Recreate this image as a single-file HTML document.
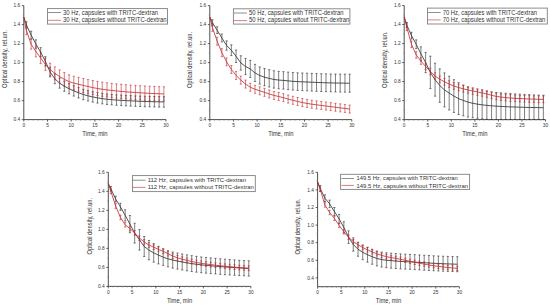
<!DOCTYPE html>
<html><head><meta charset="utf-8"><style>html,body{margin:0;padding:0;background:#fff;width:550px;height:306px;overflow:hidden}svg{display:block}</style></head>
<body><svg width="550" height="306" viewBox="0 0 550 306" font-family='"Liberation Sans", sans-serif' fill="#333"><g><path d="M23.80 5.60V119.60H166.00" fill="none" stroke="#3a3a3a" stroke-width="0.9"/><text x="20.20" y="121.30" font-size="4.8" text-anchor="end">0.4</text><text x="20.20" y="102.30" font-size="4.8" text-anchor="end">0.6</text><text x="20.20" y="83.30" font-size="4.8" text-anchor="end">0.8</text><text x="20.20" y="64.30" font-size="4.8" text-anchor="end">1.0</text><text x="20.20" y="45.30" font-size="4.8" text-anchor="end">1.2</text><text x="20.20" y="26.30" font-size="4.8" text-anchor="end">1.4</text><text x="20.20" y="7.30" font-size="4.8" text-anchor="end">1.6</text><text x="23.80" y="126.80" font-size="4.8" text-anchor="middle">0</text><text x="47.50" y="126.80" font-size="4.8" text-anchor="middle">5</text><text x="71.20" y="126.80" font-size="4.8" text-anchor="middle">10</text><text x="94.90" y="126.80" font-size="4.8" text-anchor="middle">15</text><text x="118.60" y="126.80" font-size="4.8" text-anchor="middle">20</text><text x="142.30" y="126.80" font-size="4.8" text-anchor="middle">25</text><text x="166.00" y="126.80" font-size="4.8" text-anchor="middle">30</text><path d="M21.80 119.60H23.80M21.80 100.60H23.80M21.80 81.60H23.80M21.80 62.60H23.80M21.80 43.60H23.80M21.80 24.60H23.80M21.80 5.60H23.80M23.80 119.60V121.60M47.50 119.60V121.60M71.20 119.60V121.60M94.90 119.60V121.60M118.60 119.60V121.60M142.30 119.60V121.60M166.00 119.60V121.60" stroke="#3a3a3a" stroke-width="0.8"/><path d="M22.60 110.10H23.80M22.60 91.10H23.80M22.60 72.10H23.80M22.60 53.10H23.80M22.60 34.10H23.80M22.60 15.10H23.80M28.54 119.60V120.80M33.28 119.60V120.80M38.02 119.60V120.80M42.76 119.60V120.80M52.24 119.60V120.80M56.98 119.60V120.80M61.72 119.60V120.80M66.46 119.60V120.80M75.94 119.60V120.80M80.68 119.60V120.80M85.42 119.60V120.80M90.16 119.60V120.80M99.64 119.60V120.80M104.38 119.60V120.80M109.12 119.60V120.80M113.86 119.60V120.80M123.34 119.60V120.80M128.08 119.60V120.80M132.82 119.60V120.80M137.56 119.60V120.80M147.04 119.60V120.80M151.78 119.60V120.80M156.52 119.60V120.80M161.26 119.60V120.80" stroke="#888" stroke-width="0.6"/><text x="94.90" y="135.70" font-size="6.4" text-anchor="middle" textLength="25.3" lengthAdjust="spacingAndGlyphs">Time, min</text><text transform="translate(6.90 59.10) rotate(-90)" x="0" y="0" font-size="6.5" text-anchor="middle" textLength="57.8" lengthAdjust="spacingAndGlyphs">Optical density, rel.un.</text><path d="M26.41 21.74V28.24M25.31 21.74H27.51M25.31 28.24H27.51M31.15 31.25V38.87M30.05 31.25H32.25M30.05 38.87H32.25M35.89 39.82V48.24M34.79 39.82H36.99M34.79 48.24H36.99M40.63 47.65V56.65M39.53 47.65H41.73M39.53 56.65H41.73M45.37 56.65V66.06M44.27 56.65H46.47M44.27 66.06H46.47M50.11 67.19V76.89M49.01 67.19H51.21M49.01 76.89H51.21M54.85 73.79V83.71M53.75 73.79H55.95M53.75 83.71H55.95M59.59 78.10V88.16M58.49 78.10H60.69M58.49 88.16H60.69M64.33 81.13V91.30M63.23 81.13H65.43M63.23 91.30H65.43M69.07 83.59V93.84M67.97 83.59H70.17M67.97 93.84H70.17M73.81 85.74V96.05M72.71 85.74H74.91M72.71 96.05H74.91M78.55 87.65V98.00M77.45 87.65H79.65M77.45 98.00H79.65M83.29 89.30V99.68M82.19 89.30H84.39M82.19 99.68H84.39M88.03 90.64V101.04M86.93 90.64H89.13M86.93 101.04H89.13M92.77 91.74V102.15M91.67 91.74H93.87M91.67 102.15H93.87M97.51 92.62V103.05M96.41 92.62H98.61M96.41 103.05H98.61M102.25 93.40V103.83M101.15 93.40H103.35M101.15 103.83H103.35M106.99 94.02V104.46M105.89 94.02H108.09M105.89 104.46H108.09M111.73 94.47V104.91M110.63 94.47H112.83M110.63 104.91H112.83M116.47 94.84V105.28M115.37 94.84H117.57M115.37 105.28H117.57M121.21 95.14V105.59M120.11 95.14H122.31M120.11 105.59H122.31M125.95 95.41V105.85M124.85 95.41H127.05M124.85 105.85H127.05M130.69 95.65V106.10M129.59 95.65H131.79M129.59 106.10H131.79M135.43 95.88V106.33M134.33 95.88H136.53M134.33 106.33H136.53M140.17 96.09V106.54M139.07 96.09H141.27M139.07 106.54H141.27M144.91 96.26V106.71M143.81 96.26H146.01M143.81 106.71H146.01M149.65 96.40V106.85M148.55 96.40H150.75M148.55 106.85H150.75M154.39 96.52V106.97M153.29 96.52H155.49M153.29 106.97H155.49M159.13 96.62V107.07M158.03 96.62H160.23M158.03 107.07H160.23M163.87 96.70V107.15M162.77 96.70H164.97M162.77 107.15H164.97" fill="none" stroke="#2a2a2a" stroke-width="0.6"/><polyline points="23.80,17.00 26.41,24.99 31.15,35.06 35.89,44.03 40.63,52.15 45.37,61.35 50.11,72.04 54.85,78.75 59.59,83.13 64.33,86.22 69.07,88.72 73.81,90.89 78.55,92.83 83.29,94.49 88.03,95.84 92.77,96.95 97.51,97.83 102.25,98.61 106.99,99.24 111.73,99.69 116.47,100.06 121.21,100.36 125.95,100.63 130.69,100.87 135.43,101.10 140.17,101.31 144.91,101.48 149.65,101.62 154.39,101.74 159.13,101.85 163.87,101.92" fill="none" stroke="#2a2a2a" stroke-width="0.8"/><path d="M26.41 26.25V34.71M25.31 26.25H27.51M25.31 34.71H27.51M31.15 39.40V49.14M30.05 39.40H32.25M30.05 49.14H32.25M35.89 46.17V56.91M34.79 46.17H36.99M34.79 56.91H36.99M40.63 52.09V63.61M39.53 52.09H41.73M39.53 63.61H41.73M45.37 58.27V70.39M44.27 58.27H46.47M44.27 70.39H46.47M50.11 63.21V75.80M49.01 63.21H51.21M49.01 75.80H51.21M54.85 66.87V79.83M53.75 66.87H55.95M53.75 79.83H55.95M59.59 69.90V83.14M58.49 69.90H60.69M58.49 83.14H60.69M64.33 72.57V86.04M63.23 72.57H65.43M63.23 86.04H65.43M69.07 74.80V88.44M67.97 74.80H70.17M67.97 88.44H70.17M73.81 76.22V89.99M72.71 76.22H74.91M72.71 89.99H74.91M78.55 77.33V91.21M77.45 77.33H79.65M77.45 91.21H79.65M83.29 78.47V92.43M82.19 78.47H84.39M82.19 92.43H84.39M88.03 79.55V93.58M86.93 79.55H89.13M86.93 93.58H89.13M92.77 80.55V94.63M91.67 80.55H93.87M91.67 94.63H93.87M97.51 81.45V95.57M96.41 81.45H98.61M96.41 95.57H98.61M102.25 82.18V96.33M101.15 82.18H103.35M101.15 96.33H103.35M106.99 82.81V96.98M105.89 82.81H108.09M105.89 96.98H108.09M111.73 83.35V97.54M110.63 83.35H112.83M110.63 97.54H112.83M116.47 83.84V98.04M115.37 83.84H117.57M115.37 98.04H117.57M121.21 84.29V98.50M120.11 84.29H122.31M120.11 98.50H122.31M125.95 84.70V98.92M124.85 84.70H127.05M124.85 98.92H127.05M130.69 85.06V99.29M129.59 85.06H131.79M129.59 99.29H131.79M135.43 85.39V99.62M134.33 85.39H136.53M134.33 99.62H136.53M140.17 85.69V99.92M139.07 85.69H141.27M139.07 99.92H141.27M144.91 85.96V100.20M143.81 85.96H146.01M143.81 100.20H146.01M149.65 86.20V100.44M148.55 86.20H150.75M148.55 100.44H150.75M154.39 86.42V100.67M153.29 86.42H155.49M153.29 100.67H155.49M159.13 86.63V100.87M158.03 86.63H160.23M158.03 100.87H160.23M163.87 86.80V101.05M162.77 86.80H164.97M162.77 101.05H164.97" fill="none" stroke="#c0282d" stroke-width="0.6"/><polyline points="23.80,17.00 26.41,30.48 31.15,44.27 35.89,51.54 40.63,57.85 45.37,64.33 50.11,69.50 54.85,73.35 59.59,76.52 64.33,79.30 69.07,81.62 73.81,83.11 78.55,84.27 83.29,85.45 88.03,86.56 92.77,87.59 97.51,88.51 102.25,89.26 106.99,89.89 111.73,90.44 116.47,90.94 121.21,91.40 125.95,91.81 130.69,92.17 135.43,92.51 140.17,92.81 144.91,93.08 149.65,93.32 154.39,93.55 159.13,93.75 163.87,93.93" fill="none" stroke="#c0282d" stroke-width="0.8"/><rect x="47.50" y="8.60" width="120.00" height="15.50" fill="#fff" stroke="#808080" stroke-width="0.9"/><path d="M48.00 12.50H61.00" stroke="#444" stroke-width="0.6"/><path d="M48.00 20.30H61.00" stroke="#c0282d" stroke-width="0.6"/><text x="63.00" y="14.80" font-size="6.6" textLength="95.00" lengthAdjust="spacingAndGlyphs">30 Hz, capsules with TRITC-dextran</text><text x="63.00" y="22.00" font-size="6.6" textLength="103.50" lengthAdjust="spacingAndGlyphs">30 Hz, capsules without TRITC-dextran</text></g><g><path d="M209.80 5.60V119.60H351.80" fill="none" stroke="#3a3a3a" stroke-width="0.9"/><text x="206.20" y="121.30" font-size="4.8" text-anchor="end">0.4</text><text x="206.20" y="102.30" font-size="4.8" text-anchor="end">0.6</text><text x="206.20" y="83.30" font-size="4.8" text-anchor="end">0.8</text><text x="206.20" y="64.30" font-size="4.8" text-anchor="end">1.0</text><text x="206.20" y="45.30" font-size="4.8" text-anchor="end">1.2</text><text x="206.20" y="26.30" font-size="4.8" text-anchor="end">1.4</text><text x="206.20" y="7.30" font-size="4.8" text-anchor="end">1.6</text><text x="209.80" y="126.80" font-size="4.8" text-anchor="middle">0</text><text x="233.47" y="126.80" font-size="4.8" text-anchor="middle">5</text><text x="257.13" y="126.80" font-size="4.8" text-anchor="middle">10</text><text x="280.80" y="126.80" font-size="4.8" text-anchor="middle">15</text><text x="304.47" y="126.80" font-size="4.8" text-anchor="middle">20</text><text x="328.13" y="126.80" font-size="4.8" text-anchor="middle">25</text><text x="351.80" y="126.80" font-size="4.8" text-anchor="middle">30</text><path d="M207.80 119.60H209.80M207.80 100.60H209.80M207.80 81.60H209.80M207.80 62.60H209.80M207.80 43.60H209.80M207.80 24.60H209.80M207.80 5.60H209.80M209.80 119.60V121.60M233.47 119.60V121.60M257.13 119.60V121.60M280.80 119.60V121.60M304.47 119.60V121.60M328.13 119.60V121.60M351.80 119.60V121.60" stroke="#3a3a3a" stroke-width="0.8"/><path d="M208.60 110.10H209.80M208.60 91.10H209.80M208.60 72.10H209.80M208.60 53.10H209.80M208.60 34.10H209.80M208.60 15.10H209.80M214.53 119.60V120.80M219.27 119.60V120.80M224.00 119.60V120.80M228.73 119.60V120.80M238.20 119.60V120.80M242.93 119.60V120.80M247.67 119.60V120.80M252.40 119.60V120.80M261.87 119.60V120.80M266.60 119.60V120.80M271.33 119.60V120.80M276.07 119.60V120.80M285.53 119.60V120.80M290.27 119.60V120.80M295.00 119.60V120.80M299.73 119.60V120.80M309.20 119.60V120.80M313.93 119.60V120.80M318.67 119.60V120.80M323.40 119.60V120.80M332.87 119.60V120.80M337.60 119.60V120.80M342.33 119.60V120.80M347.07 119.60V120.80" stroke="#888" stroke-width="0.6"/><text x="280.80" y="135.70" font-size="6.4" text-anchor="middle" textLength="25.3" lengthAdjust="spacingAndGlyphs">Time, min</text><text transform="translate(192.40 60.00) rotate(-90)" x="0" y="0" font-size="6.5" text-anchor="middle" textLength="56.2" lengthAdjust="spacingAndGlyphs">Optical density, rel.un.</text><path d="M212.40 19.69V25.74M211.30 19.69H213.50M211.30 25.74H213.50M217.14 26.81V33.53M216.04 26.81H218.24M216.04 33.53H218.24M221.87 33.95V41.93M220.77 33.95H222.97M220.77 41.93H222.97M226.60 40.86V50.20M225.50 40.86H227.70M225.50 50.20H227.70M231.34 44.81V55.57M230.24 44.81H232.44M230.24 55.57H232.44M236.07 50.07V62.52M234.97 50.07H237.17M234.97 62.52H237.17M240.80 55.76V70.10M239.70 55.76H241.90M239.70 70.10H241.90M245.54 58.41V74.65M244.44 58.41H246.64M244.44 74.65H246.64M250.27 60.34V77.46M249.17 60.34H251.37M249.17 77.46H251.37M255.00 64.37V81.54M253.90 64.37H256.10M253.90 81.54H256.10M259.74 66.91V84.12M258.64 66.91H260.84M258.64 84.12H260.84M264.47 68.55V85.80M263.37 68.55H265.57M263.37 85.80H265.57M269.20 69.73V87.03M268.10 69.73H270.30M268.10 87.03H270.30M273.94 70.78V88.12M272.84 70.78H275.04M272.84 88.12H275.04M278.67 71.38V88.76M277.57 71.38H279.77M277.57 88.76H279.77M283.40 71.65V89.08M282.30 71.65H284.50M282.30 89.08H284.50M288.14 72.14V89.60M287.04 72.14H289.24M287.04 89.60H289.24M292.87 72.57V90.09M291.77 72.57H293.97M291.77 90.09H293.97M297.60 72.83V90.39M296.50 72.83H298.70M296.50 90.39H298.70M302.34 73.03V90.63M301.24 73.03H303.44M301.24 90.63H303.44M307.07 73.20V90.85M305.97 73.20H308.17M305.97 90.85H308.17M311.80 73.39V91.07M310.70 73.39H312.90M310.70 91.07H312.90M316.54 73.57V91.30M315.44 73.57H317.64M315.44 91.30H317.64M321.27 73.74V91.51M320.17 73.74H322.37M320.17 91.51H322.37M326.00 73.87V91.69M324.90 73.87H327.10M324.90 91.69H327.10M330.74 73.97V91.82M329.64 73.97H331.84M329.64 91.82H331.84M335.47 74.05V91.95M334.37 74.05H336.57M334.37 91.95H336.57M340.20 74.12V92.06M339.10 74.12H341.30M339.10 92.06H341.30M344.94 74.17V92.16M343.84 74.17H346.04M343.84 92.16H346.04M349.67 74.20V92.23M348.57 74.20H350.77M348.57 92.23H350.77" fill="none" stroke="#2a2a2a" stroke-width="0.6"/><polyline points="209.80,17.00 212.40,22.72 217.14,30.17 221.87,37.94 226.60,45.53 231.34,50.19 236.07,56.29 240.80,62.93 245.54,66.53 250.27,68.90 255.00,72.96 259.74,75.51 264.47,77.17 269.20,78.38 273.94,79.45 278.67,80.07 283.40,80.37 288.14,80.87 292.87,81.33 297.60,81.61 302.34,81.83 307.07,82.02 311.80,82.23 316.54,82.43 321.27,82.62 326.00,82.78 330.74,82.90 335.47,83.00 340.20,83.09 344.94,83.16 349.67,83.21" fill="none" stroke="#2a2a2a" stroke-width="0.8"/><path d="M212.40 23.36V31.34M211.30 23.36H213.50M211.30 31.34H213.50M217.14 37.17V45.15M216.04 37.17H218.24M216.04 45.15H218.24M221.87 48.68V56.66M220.77 48.68H222.97M220.77 56.66H222.97M226.60 57.87V65.85M225.50 57.87H227.70M225.50 65.85H227.70M231.34 65.46V73.44M230.24 65.46H232.44M230.24 73.44H232.44M236.07 71.43V79.41M234.97 71.43H237.17M234.97 79.41H237.17M240.80 76.11V84.09M239.70 76.11H241.90M239.70 84.09H241.90M245.54 80.08V88.06M244.44 80.08H246.64M244.44 88.06H246.64M250.27 83.22V91.20M249.17 83.22H251.37M249.17 91.20H251.37M255.00 85.29V93.27M253.90 85.29H256.10M253.90 93.27H256.10M259.74 86.78V94.76M258.64 86.78H260.84M258.64 94.76H260.84M264.47 88.36V96.34M263.37 88.36H265.57M263.37 96.34H265.57M269.20 89.98V97.96M268.10 89.98H270.30M268.10 97.96H270.30M273.94 91.44V99.42M272.84 91.44H275.04M272.84 99.42H275.04M278.67 92.50V100.48M277.57 92.50H279.77M277.57 100.48H279.77M283.40 93.71V101.69M282.30 93.71H284.50M282.30 101.69H284.50M288.14 95.09V103.07M287.04 95.09H289.24M287.04 103.07H289.24M292.87 96.31V104.29M291.77 96.31H293.97M291.77 104.29H293.97M297.60 97.46V105.44M296.50 97.46H298.70M296.50 105.44H298.70M302.34 98.52V106.50M301.24 98.52H303.44M301.24 106.50H303.44M307.07 99.45V107.43M305.97 99.45H308.17M305.97 107.43H308.17M311.80 100.21V108.19M310.70 100.21H312.90M310.70 108.19H312.90M316.54 100.86V108.84M315.44 100.86H317.64M315.44 108.84H317.64M321.27 101.45V109.43M320.17 101.45H322.37M320.17 109.43H322.37M326.00 102.04V110.02M324.90 102.04H327.10M324.90 110.02H327.10M330.74 102.65V110.63M329.64 102.65H331.84M329.64 110.63H331.84M335.47 103.26V111.24M334.37 103.26H336.57M334.37 111.24H336.57M340.20 103.87V111.85M339.10 103.87H341.30M339.10 111.85H341.30M344.94 104.47V112.45M343.84 104.47H346.04M343.84 112.45H346.04M349.67 105.07V113.05M348.57 105.07H350.77M348.57 113.05H350.77" fill="none" stroke="#c0282d" stroke-width="0.6"/><polyline points="209.80,17.00 212.40,27.35 217.14,41.16 221.87,52.67 226.60,61.86 231.34,69.45 236.07,75.42 240.80,80.10 245.54,84.07 250.27,87.21 255.00,89.28 259.74,90.77 264.47,92.35 269.20,93.97 273.94,95.43 278.67,96.49 283.40,97.70 288.14,99.08 292.87,100.30 297.60,101.45 302.34,102.51 307.07,103.44 311.80,104.20 316.54,104.85 321.27,105.44 326.00,106.03 330.74,106.64 335.47,107.25 340.20,107.86 344.94,108.46 349.67,109.06" fill="none" stroke="#c0282d" stroke-width="0.8"/><rect x="233.40" y="8.80" width="116.50" height="15.30" fill="#fff" stroke="#808080" stroke-width="0.9"/><path d="M234.00 13.00H247.00" stroke="#444" stroke-width="0.6"/><path d="M234.00 20.60H247.00" stroke="#c0282d" stroke-width="0.6"/><text x="249.00" y="15.00" font-size="6.6" textLength="94.50" lengthAdjust="spacingAndGlyphs">50 Hz, capsules with TRITC-dextran</text><text x="249.00" y="22.10" font-size="6.6" textLength="100.40" lengthAdjust="spacingAndGlyphs">50 Hz, capsules witout TRITC-dextran</text></g><g><path d="M404.20 5.50V119.60H545.50" fill="none" stroke="#3a3a3a" stroke-width="0.9"/><text x="400.60" y="121.30" font-size="4.8" text-anchor="end">0.4</text><text x="400.60" y="102.28" font-size="4.8" text-anchor="end">0.6</text><text x="400.60" y="83.27" font-size="4.8" text-anchor="end">0.8</text><text x="400.60" y="64.25" font-size="4.8" text-anchor="end">1.0</text><text x="400.60" y="45.23" font-size="4.8" text-anchor="end">1.2</text><text x="400.60" y="26.22" font-size="4.8" text-anchor="end">1.4</text><text x="400.60" y="7.20" font-size="4.8" text-anchor="end">1.6</text><text x="404.20" y="126.80" font-size="4.8" text-anchor="middle">0</text><text x="427.75" y="126.80" font-size="4.8" text-anchor="middle">5</text><text x="451.30" y="126.80" font-size="4.8" text-anchor="middle">10</text><text x="474.85" y="126.80" font-size="4.8" text-anchor="middle">15</text><text x="498.40" y="126.80" font-size="4.8" text-anchor="middle">20</text><text x="521.95" y="126.80" font-size="4.8" text-anchor="middle">25</text><text x="545.50" y="126.80" font-size="4.8" text-anchor="middle">30</text><path d="M402.20 119.60H404.20M402.20 100.58H404.20M402.20 81.57H404.20M402.20 62.55H404.20M402.20 43.53H404.20M402.20 24.52H404.20M402.20 5.50H404.20M404.20 119.60V121.60M427.75 119.60V121.60M451.30 119.60V121.60M474.85 119.60V121.60M498.40 119.60V121.60M521.95 119.60V121.60M545.50 119.60V121.60" stroke="#3a3a3a" stroke-width="0.8"/><path d="M403.00 110.09H404.20M403.00 91.08H404.20M403.00 72.06H404.20M403.00 53.04H404.20M403.00 34.03H404.20M403.00 15.01H404.20M408.91 119.60V120.80M413.62 119.60V120.80M418.33 119.60V120.80M423.04 119.60V120.80M432.46 119.60V120.80M437.17 119.60V120.80M441.88 119.60V120.80M446.59 119.60V120.80M456.01 119.60V120.80M460.72 119.60V120.80M465.43 119.60V120.80M470.14 119.60V120.80M479.56 119.60V120.80M484.27 119.60V120.80M488.98 119.60V120.80M493.69 119.60V120.80M503.11 119.60V120.80M507.82 119.60V120.80M512.53 119.60V120.80M517.24 119.60V120.80M526.66 119.60V120.80M531.37 119.60V120.80M536.08 119.60V120.80M540.79 119.60V120.80" stroke="#888" stroke-width="0.6"/><text x="474.85" y="135.70" font-size="6.4" text-anchor="middle" textLength="25.3" lengthAdjust="spacingAndGlyphs">Time, min</text><text transform="translate(386.60 59.75) rotate(-90)" x="0" y="0" font-size="6.5" text-anchor="middle" textLength="56.7" lengthAdjust="spacingAndGlyphs">Optical density, rel.un.</text><path d="M406.79 22.54V27.39M405.69 22.54H407.89M405.69 27.39H407.89M411.50 32.27V39.02M410.40 32.27H412.60M410.40 39.02H412.60M416.21 39.89V48.71M415.11 39.89H417.31M415.11 48.71H417.31M420.92 46.82V60.77M419.82 46.82H422.02M419.82 60.77H422.02M425.63 52.37V72.66M424.53 52.37H426.73M424.53 72.66H426.73M430.34 56.20V88.56M429.24 56.20H431.44M429.24 88.56H431.44M435.05 63.24V96.14M433.95 63.24H436.15M433.95 96.14H436.15M439.76 68.88V102.32M438.66 68.88H440.86M438.66 102.32H440.86M444.47 72.92V106.91M443.37 72.92H445.57M443.37 106.91H445.57M449.18 76.22V109.93M448.08 76.22H450.28M448.08 109.93H450.28M453.89 79.69V112.45M452.79 79.69H454.99M452.79 112.45H454.99M458.60 82.75V114.55M457.50 82.75H459.70M457.50 114.55H459.70M463.31 85.03V115.88M462.21 85.03H464.41M462.21 115.88H464.41M468.02 87.18V117.08M466.92 87.18H469.12M466.92 117.08H469.12M472.73 88.82V117.77M471.63 88.82H473.83M471.63 117.77H473.83M477.44 89.97V118.35M476.34 89.97H478.54M476.34 118.35H478.54M482.15 90.76V118.89M481.05 90.76H483.25M481.05 118.89H483.25M486.86 91.42V119.30M485.76 91.42H487.96M485.76 119.30H487.96M491.57 91.99V119.60M490.47 91.99H492.67M490.47 119.60H492.67M496.28 92.47V119.60M495.18 92.47H497.38M495.18 119.60H497.38M500.99 92.87V119.60M499.89 92.87H502.09M499.89 119.60H502.09M505.70 93.22V119.60M504.60 93.22H506.80M504.60 119.60H506.80M510.41 93.55V119.60M509.31 93.55H511.51M509.31 119.60H511.51M515.12 93.85V119.60M514.02 93.85H516.22M514.02 119.60H516.22M519.83 94.13V119.60M518.73 94.13H520.93M518.73 119.60H520.93M524.54 94.39V119.60M523.44 94.39H525.64M523.44 119.60H525.64M529.25 94.63V119.60M528.15 94.63H530.35M528.15 119.60H530.35M533.96 94.87V119.60M532.86 94.87H535.06M532.86 119.60H535.06M538.67 95.09V119.60M537.57 95.09H539.77M537.57 119.60H539.77M543.38 95.29V119.60M542.28 95.29H544.48M542.28 119.60H544.48" fill="none" stroke="#2a2a2a" stroke-width="0.6"/><polyline points="404.20,16.91 406.79,24.96 411.50,35.64 416.21,44.30 420.92,53.80 425.63,62.52 430.34,72.38 435.05,79.69 439.76,85.60 444.47,89.92 449.18,93.07 453.89,96.07 458.60,98.65 463.31,100.45 468.02,102.13 472.73,103.30 477.44,104.16 482.15,104.83 486.86,105.36 491.57,105.80 496.28,106.16 500.99,106.43 505.70,106.66 510.41,106.86 515.12,107.03 519.83,107.18 524.54,107.31 529.25,107.43 533.96,107.54 538.67,107.63 543.38,107.71" fill="none" stroke="#2a2a2a" stroke-width="0.8"/><path d="M406.79 23.87V30.52M405.69 23.87H407.89M405.69 30.52H407.89M411.50 41.02V47.67M410.40 41.02H412.60M410.40 47.67H412.60M416.21 51.62V58.27M415.11 51.62H417.31M415.11 58.27H417.31M420.92 57.72V64.38M419.82 57.72H422.02M419.82 64.38H422.02M425.63 63.14V69.79M424.53 63.14H426.73M424.53 69.79H426.73M430.34 68.15V74.81M429.24 68.15H431.44M429.24 74.81H431.44M435.05 72.68V79.34M433.95 72.68H436.15M433.95 79.34H436.15M439.76 75.87V82.53M438.66 75.87H440.86M438.66 82.53H440.86M444.47 78.45V85.11M443.37 78.45H445.57M443.37 85.11H445.57M449.18 80.76V87.42M448.08 80.76H450.28M448.08 87.42H450.28M453.89 82.65V89.31M452.79 82.65H454.99M452.79 89.31H454.99M458.60 84.21V90.87M457.50 84.21H459.70M457.50 90.87H459.70M463.31 85.51V92.16M462.21 85.51H464.41M462.21 92.16H464.41M468.02 86.65V93.30M466.92 86.65H469.12M466.92 93.30H469.12M472.73 87.70V94.36M471.63 87.70H473.83M471.63 94.36H473.83M477.44 88.66V95.32M476.34 88.66H478.54M476.34 95.32H478.54M482.15 89.58V96.23M481.05 89.58H483.25M481.05 96.23H483.25M486.86 90.61V97.27M485.76 90.61H487.96M485.76 97.27H487.96M491.57 91.92V98.58M490.47 91.92H492.67M490.47 98.58H492.67M496.28 93.10V99.76M495.18 93.10H497.38M495.18 99.76H497.38M500.99 93.77V100.42M499.89 93.77H502.09M499.89 100.42H502.09M505.70 94.26V100.92M504.60 94.26H506.80M504.60 100.92H506.80M510.41 94.67V101.32M509.31 94.67H511.51M509.31 101.32H511.51M515.12 95.00V101.65M514.02 95.00H516.22M514.02 101.65H516.22M519.83 95.26V101.91M518.73 95.26H520.93M518.73 101.91H520.93M524.54 95.47V102.12M523.44 95.47H525.64M523.44 102.12H525.64M529.25 95.66V102.31M528.15 95.66H530.35M528.15 102.31H530.35M533.96 95.82V102.48M532.86 95.82H535.06M532.86 102.48H535.06M538.67 95.95V102.60M537.57 95.95H539.77M537.57 102.60H539.77M543.38 96.01V102.67M542.28 96.01H544.48M542.28 102.67H544.48" fill="none" stroke="#c0282d" stroke-width="0.6"/><polyline points="404.20,16.91 406.79,27.19 411.50,44.35 416.21,54.94 420.92,61.05 425.63,66.47 430.34,71.48 435.05,76.01 439.76,79.20 444.47,81.78 449.18,84.09 453.89,85.98 458.60,87.54 463.31,88.84 468.02,89.98 472.73,91.03 477.44,91.99 482.15,92.91 486.86,93.94 491.57,95.25 496.28,96.43 500.99,97.09 505.70,97.59 510.41,98.00 515.12,98.32 519.83,98.58 524.54,98.79 529.25,98.99 533.96,99.15 538.67,99.27 543.38,99.34" fill="none" stroke="#c0282d" stroke-width="0.8"/><rect x="427.50" y="8.10" width="119.80" height="15.90" fill="#fff" stroke="#808080" stroke-width="0.9"/><path d="M428.00 12.50H440.60" stroke="#444" stroke-width="0.6"/><path d="M428.00 19.90H440.60" stroke="#c0282d" stroke-width="0.6"/><text x="442.70" y="14.70" font-size="6.6" textLength="94.30" lengthAdjust="spacingAndGlyphs">70 Hz, capsules with TRITC-dextran</text><text x="442.70" y="21.90" font-size="6.6" textLength="102.60" lengthAdjust="spacingAndGlyphs">70 Hz, capsules without TRITC-dextran</text></g><g><path d="M108.30 172.30V286.40H250.90" fill="none" stroke="#3a3a3a" stroke-width="0.9"/><text x="104.70" y="288.10" font-size="4.8" text-anchor="end">0.4</text><text x="104.70" y="269.08" font-size="4.8" text-anchor="end">0.6</text><text x="104.70" y="250.07" font-size="4.8" text-anchor="end">0.8</text><text x="104.70" y="231.05" font-size="4.8" text-anchor="end">1.0</text><text x="104.70" y="212.03" font-size="4.8" text-anchor="end">1.2</text><text x="104.70" y="193.02" font-size="4.8" text-anchor="end">1.4</text><text x="104.70" y="174.00" font-size="4.8" text-anchor="end">1.6</text><text x="108.30" y="293.60" font-size="4.8" text-anchor="middle">0</text><text x="132.07" y="293.60" font-size="4.8" text-anchor="middle">5</text><text x="155.83" y="293.60" font-size="4.8" text-anchor="middle">10</text><text x="179.60" y="293.60" font-size="4.8" text-anchor="middle">15</text><text x="203.37" y="293.60" font-size="4.8" text-anchor="middle">20</text><text x="227.13" y="293.60" font-size="4.8" text-anchor="middle">25</text><text x="250.90" y="293.60" font-size="4.8" text-anchor="middle">30</text><path d="M106.30 286.40H108.30M106.30 267.38H108.30M106.30 248.37H108.30M106.30 229.35H108.30M106.30 210.33H108.30M106.30 191.32H108.30M106.30 172.30H108.30M108.30 286.40V288.40M132.07 286.40V288.40M155.83 286.40V288.40M179.60 286.40V288.40M203.37 286.40V288.40M227.13 286.40V288.40M250.90 286.40V288.40" stroke="#3a3a3a" stroke-width="0.8"/><path d="M107.10 276.89H108.30M107.10 257.88H108.30M107.10 238.86H108.30M107.10 219.84H108.30M107.10 200.83H108.30M107.10 181.81H108.30M113.05 286.40V287.60M117.81 286.40V287.60M122.56 286.40V287.60M127.31 286.40V287.60M136.82 286.40V287.60M141.57 286.40V287.60M146.33 286.40V287.60M151.08 286.40V287.60M160.59 286.40V287.60M165.34 286.40V287.60M170.09 286.40V287.60M174.85 286.40V287.60M184.35 286.40V287.60M189.11 286.40V287.60M193.86 286.40V287.60M198.61 286.40V287.60M208.12 286.40V287.60M212.87 286.40V287.60M217.63 286.40V287.60M222.38 286.40V287.60M231.89 286.40V287.60M236.64 286.40V287.60M241.39 286.40V287.60M246.15 286.40V287.60" stroke="#888" stroke-width="0.6"/><text x="179.60" y="302.50" font-size="6.4" text-anchor="middle" textLength="25.3" lengthAdjust="spacingAndGlyphs">Time, min</text><text transform="translate(92.00 226.20) rotate(-90)" x="0" y="0" font-size="6.5" text-anchor="middle" textLength="56.7" lengthAdjust="spacingAndGlyphs">Optical density, rel.un.</text><path d="M110.91 186.59V191.09M109.81 186.59H112.01M109.81 191.09H112.01M115.67 196.25V202.02M114.57 196.25H116.77M114.57 202.02H116.77M120.42 203.29V210.33M119.32 203.29H121.52M119.32 210.33H121.52M125.17 209.81V220.91M124.07 209.81H126.27M124.07 220.91H126.27M129.93 215.47V232.71M128.83 215.47H131.03M128.83 232.71H131.03M134.68 223.26V243.04M133.58 223.26H135.78M133.58 243.04H135.78M139.43 229.52V250.09M138.33 229.52H140.53M138.33 250.09H140.53M144.19 236.50V256.43M143.09 236.50H145.29M143.09 256.43H145.29M148.94 240.46V259.76M147.84 240.46H150.04M147.84 259.76H150.04M153.69 243.63V262.13M152.59 243.63H154.79M152.59 262.13H154.79M158.45 246.36V263.90M157.35 246.36H159.55M157.35 263.90H159.55M163.20 248.82V265.41M162.10 248.82H164.30M162.10 265.41H164.30M167.95 250.74V266.88M166.85 250.74H169.05M166.85 266.88H169.05M172.71 252.03V268.11M171.61 252.03H173.81M171.61 268.11H173.81M177.46 253.06V269.09M176.36 253.06H178.56M176.36 269.09H178.56M182.21 254.01V269.99M181.11 254.01H183.31M181.11 269.99H183.31M186.97 254.90V270.82M185.87 254.90H188.07M185.87 270.82H188.07M191.72 255.68V271.55M190.62 255.68H192.82M190.62 271.55H192.82M196.47 256.35V272.17M195.37 256.35H197.57M195.37 272.17H197.57M201.23 256.94V272.71M200.13 256.94H202.33M200.13 272.71H202.33M205.98 257.46V273.18M204.88 257.46H207.08M204.88 273.18H207.08M210.73 257.94V273.60M209.63 257.94H211.83M209.63 273.60H211.83M215.49 258.39V273.99M214.39 258.39H216.59M214.39 273.99H216.59M220.24 258.80V274.35M219.14 258.80H221.34M219.14 274.35H221.34M224.99 259.19V274.69M223.89 259.19H226.09M223.89 274.69H226.09M229.75 259.56V275.01M228.65 259.56H230.85M228.65 275.01H230.85M234.50 259.91V275.31M233.40 259.91H235.60M233.40 275.31H235.60M239.25 260.25V275.59M238.15 260.25H240.35M238.15 275.59H240.35M244.01 260.56V275.85M242.91 260.56H245.11M242.91 275.85H245.11M248.76 260.84V276.08M247.66 260.84H249.86M247.66 276.08H249.86" fill="none" stroke="#2a2a2a" stroke-width="0.6"/><polyline points="108.30,183.71 110.91,188.84 115.67,199.14 120.42,206.81 125.17,215.36 129.93,224.09 134.68,233.15 139.43,239.81 144.19,246.47 148.94,250.11 153.69,252.88 158.45,255.13 163.20,257.11 167.95,258.81 172.71,260.07 177.46,261.08 182.21,262.00 186.97,262.86 191.72,263.61 196.47,264.26 201.23,264.83 205.98,265.32 210.73,265.77 215.49,266.19 220.24,266.58 224.99,266.94 229.75,267.28 234.50,267.61 239.25,267.92 244.01,268.20 248.76,268.46" fill="none" stroke="#2a2a2a" stroke-width="0.8"/><path d="M110.91 188.94V193.69M109.81 188.94H112.01M109.81 193.69H112.01M115.67 203.70V208.45M114.57 203.70H116.77M114.57 208.45H116.77M120.42 215.07V219.82M119.32 215.07H121.52M119.32 219.82H121.52M125.17 222.34V227.09M124.07 222.34H126.27M124.07 227.09H126.27M129.93 226.21V230.96M128.83 226.21H131.03M128.83 230.96H131.03M134.68 230.59V235.34M133.58 230.59H135.78M133.58 235.34H135.78M139.43 235.79V240.54M138.33 235.79H140.53M138.33 240.54H140.53M144.19 239.52V244.28M143.09 239.52H145.29M143.09 244.28H145.29M148.94 242.69V247.44M147.84 242.69H150.04M147.84 247.44H150.04M153.69 244.81V249.56M152.59 244.81H154.79M152.59 249.56H154.79M158.45 247.00V251.76M157.35 247.00H159.55M157.35 251.76H159.55M163.20 249.00V253.76M162.10 249.00H164.30M162.10 253.76H164.30M167.95 251.31V256.06M166.85 251.31H169.05M166.85 256.06H169.05M172.71 253.67V258.43M171.61 253.67H173.81M171.61 258.43H173.81M177.46 255.44V260.20M176.36 255.44H178.56M176.36 260.20H178.56M182.21 256.84V261.60M181.11 256.84H183.31M181.11 261.60H183.31M186.97 258.05V262.80M185.87 258.05H188.07M185.87 262.80H188.07M191.72 259.14V263.90M190.62 259.14H192.82M190.62 263.90H192.82M196.47 260.11V264.86M195.37 260.11H197.57M195.37 264.86H197.57M201.23 260.91V265.67M200.13 260.91H202.33M200.13 265.67H202.33M205.98 261.61V266.37M204.88 261.61H207.08M204.88 266.37H207.08M210.73 262.24V267.00M209.63 262.24H211.83M209.63 267.00H211.83M215.49 262.82V267.57M214.39 262.82H216.59M214.39 267.57H216.59M220.24 263.35V268.10M219.14 263.35H221.34M219.14 268.10H221.34M224.99 263.84V268.60M223.89 263.84H226.09M223.89 268.60H226.09M229.75 264.31V269.06M228.65 264.31H230.85M228.65 269.06H230.85M234.50 264.75V269.50M233.40 264.75H235.60M233.40 269.50H235.60M239.25 265.16V269.92M238.15 265.16H240.35M238.15 269.92H240.35M244.01 265.54V270.29M242.91 265.54H245.11M242.91 270.29H245.11M248.76 265.88V270.63M247.66 265.88H249.86M247.66 270.63H249.86" fill="none" stroke="#c0282d" stroke-width="0.6"/><polyline points="108.30,183.71 110.91,191.32 115.67,206.08 120.42,217.44 125.17,224.72 129.93,228.58 134.68,232.96 139.43,238.16 144.19,241.90 148.94,245.06 153.69,247.18 158.45,249.38 163.20,251.38 167.95,253.68 172.71,256.05 177.46,257.82 182.21,259.22 186.97,260.42 191.72,261.52 196.47,262.49 201.23,263.29 205.98,263.99 210.73,264.62 215.49,265.20 220.24,265.72 224.99,266.22 229.75,266.69 234.50,267.13 239.25,267.54 244.01,267.92 248.76,268.26" fill="none" stroke="#c0282d" stroke-width="0.8"/><rect x="132.50" y="175.60" width="122.80" height="16.00" fill="#fff" stroke="#808080" stroke-width="0.9"/><path d="M133.00 180.20H145.60" stroke="#444" stroke-width="0.6"/><path d="M133.00 187.40H145.60" stroke="#c0282d" stroke-width="0.6"/><text x="147.70" y="181.70" font-size="6.2" textLength="98.30" lengthAdjust="spacingAndGlyphs">112 Hz, capsules with TRITC-dextran</text><text x="147.70" y="188.60" font-size="6.2" textLength="106.10" lengthAdjust="spacingAndGlyphs">112 Hz, capsules without TRITC-dextran</text></g><g><path d="M317.60 172.30V286.70H459.40" fill="none" stroke="#3a3a3a" stroke-width="0.9"/><text x="314.00" y="279.60" font-size="4.8" text-anchor="end">0.4</text><text x="314.00" y="262.00" font-size="4.8" text-anchor="end">0.6</text><text x="314.00" y="244.40" font-size="4.8" text-anchor="end">0.8</text><text x="314.00" y="226.80" font-size="4.8" text-anchor="end">1.0</text><text x="314.00" y="209.20" font-size="4.8" text-anchor="end">1.2</text><text x="314.00" y="191.60" font-size="4.8" text-anchor="end">1.4</text><text x="314.00" y="174.00" font-size="4.8" text-anchor="end">1.6</text><text x="317.60" y="293.90" font-size="4.8" text-anchor="middle">0</text><text x="341.23" y="293.90" font-size="4.8" text-anchor="middle">5</text><text x="364.87" y="293.90" font-size="4.8" text-anchor="middle">10</text><text x="388.50" y="293.90" font-size="4.8" text-anchor="middle">15</text><text x="412.13" y="293.90" font-size="4.8" text-anchor="middle">20</text><text x="435.77" y="293.90" font-size="4.8" text-anchor="middle">25</text><text x="459.40" y="293.90" font-size="4.8" text-anchor="middle">30</text><path d="M315.60 277.90H317.60M315.60 260.30H317.60M315.60 242.70H317.60M315.60 225.10H317.60M315.60 207.50H317.60M315.60 189.90H317.60M315.60 172.30H317.60M317.60 286.70V288.70M341.23 286.70V288.70M364.87 286.70V288.70M388.50 286.70V288.70M412.13 286.70V288.70M435.77 286.70V288.70M459.40 286.70V288.70" stroke="#3a3a3a" stroke-width="0.8"/><path d="M316.40 269.10H317.60M316.40 251.50H317.60M316.40 233.90H317.60M316.40 216.30H317.60M316.40 198.70H317.60M316.40 181.10H317.60M322.33 286.70V287.90M327.05 286.70V287.90M331.78 286.70V287.90M336.51 286.70V287.90M345.96 286.70V287.90M350.69 286.70V287.90M355.41 286.70V287.90M360.14 286.70V287.90M369.59 286.70V287.90M374.32 286.70V287.90M379.05 286.70V287.90M383.77 286.70V287.90M393.23 286.70V287.90M397.95 286.70V287.90M402.68 286.70V287.90M407.41 286.70V287.90M416.86 286.70V287.90M421.59 286.70V287.90M426.31 286.70V287.90M431.04 286.70V287.90M440.49 286.70V287.90M445.22 286.70V287.90M449.95 286.70V287.90M454.67 286.70V287.90" stroke="#888" stroke-width="0.6"/><text x="388.50" y="302.80" font-size="6.4" text-anchor="middle" textLength="25.3" lengthAdjust="spacingAndGlyphs">Time, min</text><text transform="translate(300.00 226.60) rotate(-90)" x="0" y="0" font-size="6.5" text-anchor="middle" textLength="55.9" lengthAdjust="spacingAndGlyphs">Optical density, rel.un.</text><path d="M320.20 185.50V191.27M319.10 185.50H321.30M319.10 191.27H321.30M324.93 194.86V201.50M323.83 194.86H326.03M323.83 201.50H326.03M329.65 200.15V207.58M328.55 200.15H330.75M328.55 207.58H330.75M334.38 207.50V215.63M333.28 207.50H335.48M333.28 215.63H335.48M339.11 214.44V223.35M338.01 214.44H340.21M338.01 223.35H340.21M343.83 221.76V233.02M342.73 221.76H344.93M342.73 233.02H344.93M348.56 230.83V243.51M347.46 230.83H349.66M347.46 243.51H349.66M353.29 237.83V251.17M352.19 237.83H354.39M352.19 251.17H354.39M358.01 242.22V256.23M356.91 242.22H359.11M356.91 256.23H359.11M362.74 245.02V259.68M361.64 245.02H363.84M361.64 259.68H363.84M367.47 247.21V262.17M366.37 247.21H368.57M366.37 262.17H368.57M372.19 249.26V264.22M371.09 249.26H373.29M371.09 264.22H373.29M376.92 251.02V265.98M375.82 251.02H378.02M375.82 265.98H378.02M381.65 252.08V267.04M380.55 252.08H382.75M380.55 267.04H382.75M386.37 252.72V267.68M385.27 252.72H387.47M385.27 267.68H387.47M391.10 253.19V268.15M390.00 253.19H392.20M390.00 268.15H392.20M395.83 253.58V268.54M394.73 253.58H396.93M394.73 268.54H396.93M400.55 253.89V268.85M399.45 253.89H401.65M399.45 268.85H401.65M405.28 254.16V269.12M404.18 254.16H406.38M404.18 269.12H406.38M410.01 254.39V269.35M408.91 254.39H411.11M408.91 269.35H411.11M414.73 254.65V269.61M413.63 254.65H415.83M413.63 269.61H415.83M419.46 254.93V269.89M418.36 254.93H420.56M418.36 269.89H420.56M424.19 255.23V270.19M423.09 255.23H425.29M423.09 270.19H425.29M428.91 255.53V270.49M427.81 255.53H430.01M427.81 270.49H430.01M433.64 255.79V270.75M432.54 255.79H434.74M432.54 270.75H434.74M438.37 256.02V270.98M437.27 256.02H439.47M437.27 270.98H439.47M443.09 256.23V271.19M441.99 256.23H444.19M441.99 271.19H444.19M447.82 256.42V271.38M446.72 256.42H448.92M446.72 271.38H448.92M452.55 256.59V271.55M451.45 256.59H453.65M451.45 271.55H453.65M457.27 256.75V271.71M456.17 256.75H458.37M456.17 271.71H458.37" fill="none" stroke="#2a2a2a" stroke-width="0.6"/><polyline points="317.60,181.98 320.20,188.39 324.93,198.18 329.65,203.87 334.38,211.56 339.11,218.89 343.83,227.39 348.56,237.17 353.29,244.50 358.01,249.23 362.74,252.35 367.47,254.69 372.19,256.74 376.92,258.50 381.65,259.56 386.37,260.20 391.10,260.67 395.83,261.06 400.55,261.37 405.28,261.64 410.01,261.87 414.73,262.13 419.46,262.41 424.19,262.71 428.91,263.01 433.64,263.27 438.37,263.50 443.09,263.71 447.82,263.90 452.55,264.07 457.27,264.23" fill="none" stroke="#2a2a2a" stroke-width="0.8"/><path d="M320.20 186.98V191.38M319.10 186.98H321.30M319.10 191.38H321.30M324.93 202.79V207.19M323.83 202.79H326.03M323.83 207.19H326.03M329.65 210.35V214.75M328.55 210.35H330.75M328.55 214.75H330.75M334.38 216.10V220.50M333.28 216.10H335.48M333.28 220.50H335.48M339.11 223.23V227.63M338.01 223.23H340.21M338.01 227.63H340.21M343.83 229.56V233.96M342.73 229.56H344.93M342.73 233.96H344.93M348.56 235.08V239.48M347.46 235.08H349.66M347.46 239.48H349.66M353.29 239.36V243.76M352.19 239.36H354.39M352.19 243.76H354.39M358.01 242.64V247.04M356.91 242.64H359.11M356.91 247.04H359.11M362.74 245.32V249.72M361.64 245.32H363.84M361.64 249.72H363.84M367.47 247.65V252.05M366.37 247.65H368.57M366.37 252.05H368.57M372.19 249.70V254.10M371.09 249.70H373.29M371.09 254.10H373.29M376.92 251.63V256.03M375.82 251.63H378.02M375.82 256.03H378.02M381.65 253.18V257.58M380.55 253.18H382.75M380.55 257.58H382.75M386.37 254.42V258.82M385.27 254.42H387.47M385.27 258.82H387.47M391.10 255.39V259.79M390.00 255.39H392.20M390.00 259.79H392.20M395.83 256.22V260.62M394.73 256.22H396.93M394.73 260.62H396.93M400.55 257.09V261.49M399.45 257.09H401.65M399.45 261.49H401.65M405.28 258.09V262.49M404.18 258.09H406.38M404.18 262.49H406.38M410.01 259.13V263.53M408.91 259.13H411.11M408.91 263.53H411.11M414.73 260.09V264.49M413.63 260.09H415.83M413.63 264.49H415.83M419.46 261.02V265.42M418.36 261.02H420.56M418.36 265.42H420.56M424.19 261.92V266.32M423.09 261.92H425.29M423.09 266.32H425.29M428.91 262.76V267.16M427.81 262.76H430.01M427.81 267.16H430.01M433.64 263.52V267.92M432.54 263.52H434.74M432.54 267.92H434.74M438.37 264.17V268.57M437.27 264.17H439.47M437.27 268.57H439.47M443.09 264.76V269.16M441.99 264.76H444.19M441.99 269.16H444.19M447.82 265.30V269.70M446.72 265.30H448.92M446.72 269.70H448.92M452.55 265.79V270.19M451.45 265.79H453.65M451.45 270.19H453.65M457.27 266.19V270.59M456.17 266.19H458.37M456.17 270.59H458.37" fill="none" stroke="#c0282d" stroke-width="0.6"/><polyline points="317.60,181.98 320.20,189.18 324.93,204.99 329.65,212.55 334.38,218.30 339.11,225.43 343.83,231.76 348.56,237.28 353.29,241.56 358.01,244.84 362.74,247.52 367.47,249.85 372.19,251.90 376.92,253.83 381.65,255.38 386.37,256.62 391.10,257.59 395.83,258.42 400.55,259.29 405.28,260.29 410.01,261.33 414.73,262.29 419.46,263.22 424.19,264.12 428.91,264.96 433.64,265.72 438.37,266.37 443.09,266.96 447.82,267.50 452.55,267.99 457.27,268.39" fill="none" stroke="#c0282d" stroke-width="0.8"/><rect x="340.60" y="174.30" width="129.00" height="15.10" fill="#fff" stroke="#808080" stroke-width="0.9"/><path d="M341.50 178.50H354.00" stroke="#444" stroke-width="0.6"/><path d="M341.50 185.40H354.00" stroke="#c0282d" stroke-width="0.6"/><text x="356.50" y="180.40" font-size="6.2" textLength="101.30" lengthAdjust="spacingAndGlyphs">149.5 Hz, capsules with TRITC-dextran</text><text x="356.50" y="187.60" font-size="6.2" textLength="111.50" lengthAdjust="spacingAndGlyphs">149.5 Hz, capsules without TRITC-dextran</text></g></svg></body></html>
